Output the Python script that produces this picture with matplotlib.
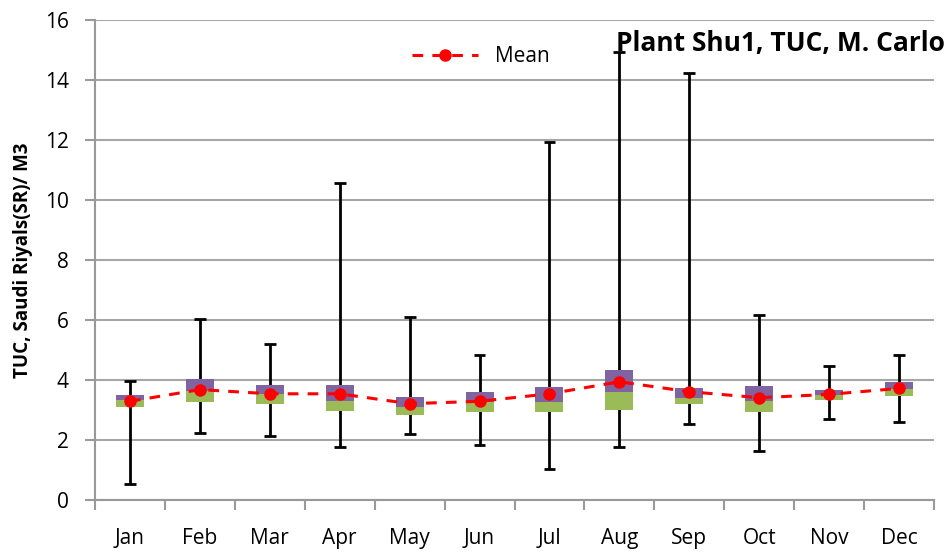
import numpy as np
import matplotlib
matplotlib.use("Agg")
from matplotlib import pyplot as plt

months = ['Jan', 'Feb', 'Mar', 'Apr', 'May', 'Jun',
          'Jul', 'Aug', 'Sep', 'Oct', 'Nov', 'Dec']
# box bottom (Q1), middle split (median), box top (Q3)
q1 = [3.11, 3.26, 3.21, 2.98, 2.84, 2.94, 2.94, 3.01, 3.21, 2.92, 3.32, 3.48]
med = [3.33, 3.63, 3.52, 3.31, 3.11, 3.27, 3.28, 3.59, 3.40, 3.30, 3.49, 3.70]
q3 = [3.49, 4.03, 3.83, 3.83, 3.42, 3.60, 3.78, 4.34, 3.74, 3.81, 3.67, 3.93]
wmin = [0.52, 2.24, 2.13, 1.78, 2.19, 1.83, 1.03, 1.78, 2.54, 1.63, 2.69, 2.60]
wmax = [3.98, 6.04, 5.21, 10.56, 6.10, 4.84, 11.94, 14.94, 14.25, 6.17, 4.48, 4.82]
mean = [3.29, 3.68, 3.54, 3.54, 3.21, 3.29, 3.54, 3.94, 3.61, 3.41, 3.52, 3.72]

plt.rcParams['font.family'] = ['Open Sans', 'DejaVu Sans']

fig = plt.figure(figsize=(9.51, 5.54), dpi=100)
ax = fig.add_axes([95 / 951, 54 / 554, 839 / 951, 480 / 554])

x = np.arange(len(months))
q1 = np.array(q1)
med = np.array(med)
q3 = np.array(q3)

ax.vlines(x, wmin, wmax, color='black', lw=2, zorder=2)
ax.hlines(wmin, x - 0.085, x + 0.085, color='black', lw=2, zorder=2)
ax.hlines(wmax, x - 0.085, x + 0.085, color='black', lw=2, zorder=2)
ax.bar(x, med - q1, bottom=q1, width=0.4, color='#9BBB59', zorder=3)
ax.bar(x, q3 - med, bottom=med, width=0.4, color='#8064A2', zorder=3)
ax.plot(x, mean, color='red', ls=(0, (3.5, 3)), lw=2.2, marker='o',
        markersize=8, label='Mean', zorder=4)

ax.set_xlim(-0.5, 11.5)
ax.set_ylim(0, 16)
ax.set_yticks(np.arange(0, 17, 2))
ax.set_xticks(x)
ax.set_xticklabels(months)
ax.set_xticks(np.arange(-0.5, 12, 1), minor=True)
ax.tick_params(axis='x', which='major', length=0, pad=20, labelsize=15)
ax.tick_params(axis='x', which='minor', length=7, width=1.5, color='#999999', direction='out')
ax.tick_params(axis='y', length=7, width=1.5, color='#999999', labelsize=15, pad=12)
ax.grid(axis='y', color='#a6a6a6', lw=1.5)
ax.set_axisbelow(True)
for s in ['top', 'right']:
    ax.spines[s].set_visible(False)
for s in ['left', 'bottom']:
    ax.spines[s].set_color('#999999')
    ax.spines[s].set_linewidth(1.5)

ax.set_ylabel('TUC, Saudi Riyals(SR)/ M3', fontsize=13.5, fontweight='bold', labelpad=8)
ax.legend(loc='upper left', bbox_to_anchor=(0.355, 0.985), frameon=False,
          fontsize=15, handlelength=3.2)
fig.text(945 / 951, 1 - 43 / 554, 'Plant Shu1, TUC, M. Carlo', ha='right', va='center',
         fontsize=19, fontweight='bold')

fig.savefig('out.png', dpi=100)
